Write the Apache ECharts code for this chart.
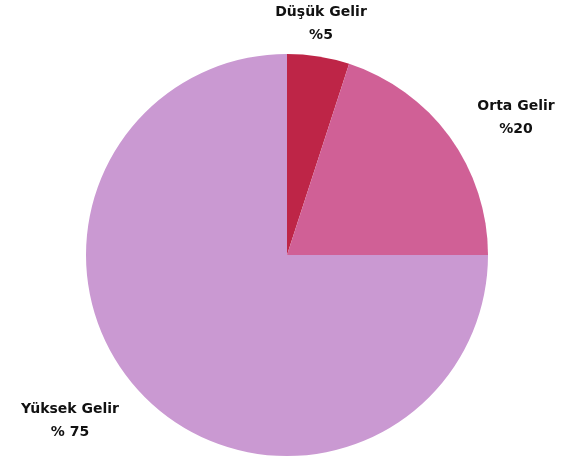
<!DOCTYPE html>
<html>
<head>
<meta charset="utf-8">
<script src="https://cdn.jsdelivr.net/npm/echarts@6/dist/echarts.min.js"></script>
<style>
  html, body { margin: 0; padding: 0; background: #fff; }
  #chart { width: 575px; height: 461px; }
</style>
</head>
<body>
<div id="chart"></div>
<script>
const chart = echarts.init(document.getElementById("chart"));

const categories = ["Düşük Gelir", "Orta Gelir", "Yüksek Gelir"];
const shares = [5, 20, 75];
const shareLabels = ["%5", "%20", "% 75"];
const colors = ["#BE2547", "#D06096", "#CA99D2"];

// label anchor points (center of the two-line block)
const labelSpots = [[321, 24], [516, 118], [70, 421]];

chart.setOption({
  animation: false,
  series: [{
    type: "pie",
    center: [287, 255],
    radius: 201,
    startAngle: 90,
    clockwise: true,
    data: categories.map((c, i) => ({
      name: c,
      value: shares[i],
      itemStyle: { color: colors[i] }
    })),
    label: {
      show: true,
      position: "outside",
      formatter: p => `${p.name}\n${shareLabels[p.dataIndex]}`,
      fontFamily: "DejaVu Sans",
      fontWeight: "bold",
      fontSize: 14,
      lineHeight: 23,
      color: "#111",
      align: "center",
      overflow: "none",
      width: 200
    },
    labelLine: { show: false },
    labelLayout: p => ({
      x: labelSpots[p.dataIndex][0],
      y: labelSpots[p.dataIndex][1],
      align: "center",
      verticalAlign: "middle"
    }),
    emphasis: { disabled: true }
  }]
});
</script>
</body>
</html>
